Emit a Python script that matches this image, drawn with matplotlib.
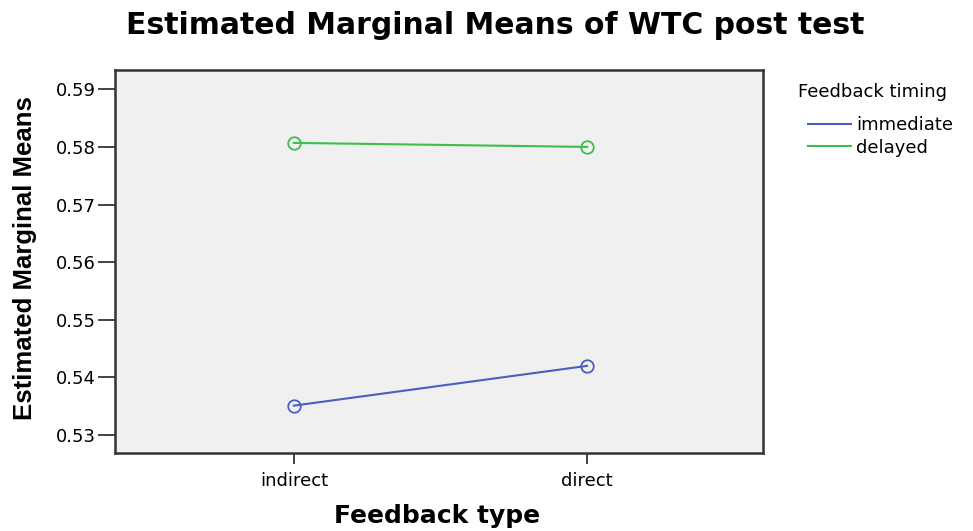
import matplotlib
matplotlib.use("Agg")
import matplotlib.pyplot as plt
from matplotlib import font_manager

categories = ["indirect", "direct"]
immediate = [0.5351, 0.5420]
delayed = [0.5807, 0.5800]
yticks = [0.53, 0.54, 0.55, 0.56, 0.57, 0.58, 0.59]

names = {f.name for f in font_manager.fontManager.ttflist}
narrow = "Liberation Sans Narrow" if "Liberation Sans Narrow" in names else "Liberation Sans"

plt.rcParams['font.family'] = ['DejaVu Sans']

fig = plt.figure(figsize=(9.73, 5.31), dpi=100)
ax = fig.add_axes([115/973, 1-453/531, (763-115)/973, (453-70)/531])
ax.set_facecolor('#f0f0f0')

x = list(range(len(categories)))
ax.plot(x, immediate, color='#4a5fc1', lw=1.5, marker='o', ms=9, mfc='none', mew=1.3, label='immediate')
ax.plot(x, delayed, color='#3cc04a', lw=1.5, marker='o', ms=9, mfc='none', mew=1.3, label='delayed')

ax.set_xlim(-0.61, 1.60)
ax.set_ylim(0.52688, 0.59335)
ax.set_xticks(x)
ax.set_xticklabels(categories, fontsize=13)
ax.set_yticks(yticks)
ax.set_yticklabels([f"{v:.2f}" for v in yticks], fontsize=13)
ax.tick_params(axis='y', length=12, width=1.2, color='#222222', pad=2)
ax.tick_params(axis='x', length=8, width=1.2, color='#222222', pad=6)
for s in ax.spines.values():
    s.set_color('#333333')
    s.set_linewidth(1.8)

ax.set_ylabel("Estimated Marginal Means", fontsize=18.5, fontweight='bold',
              family=[narrow, 'DejaVu Sans'])
ax.yaxis.set_label_coords(-0.12, 0.51)
fig.text(437/973, 1-516/531, "Feedback type", fontsize=18, fontweight='bold',
         ha='center', va='center')
fig.text(495/973, 1-25/531, "Estimated Marginal Means of WTC post test",
         fontsize=21.5, fontweight='bold', ha='center', va='center')

fig.text(798/973, 1-92/531, "Feedback timing", fontsize=13, ha='left', va='center')
leg = fig.legend(loc='upper left', bbox_to_anchor=(808/973, 1-116/531),
                 fontsize=13, frameon=False, handlelength=2.4, handletextpad=0.25,
                 labelspacing=0.25, borderpad=0, borderaxespad=0)
for h in leg.legend_handles:
    h.set_marker('')
    h.set_linewidth(1.5)

fig.savefig("out.png", dpi=100)
